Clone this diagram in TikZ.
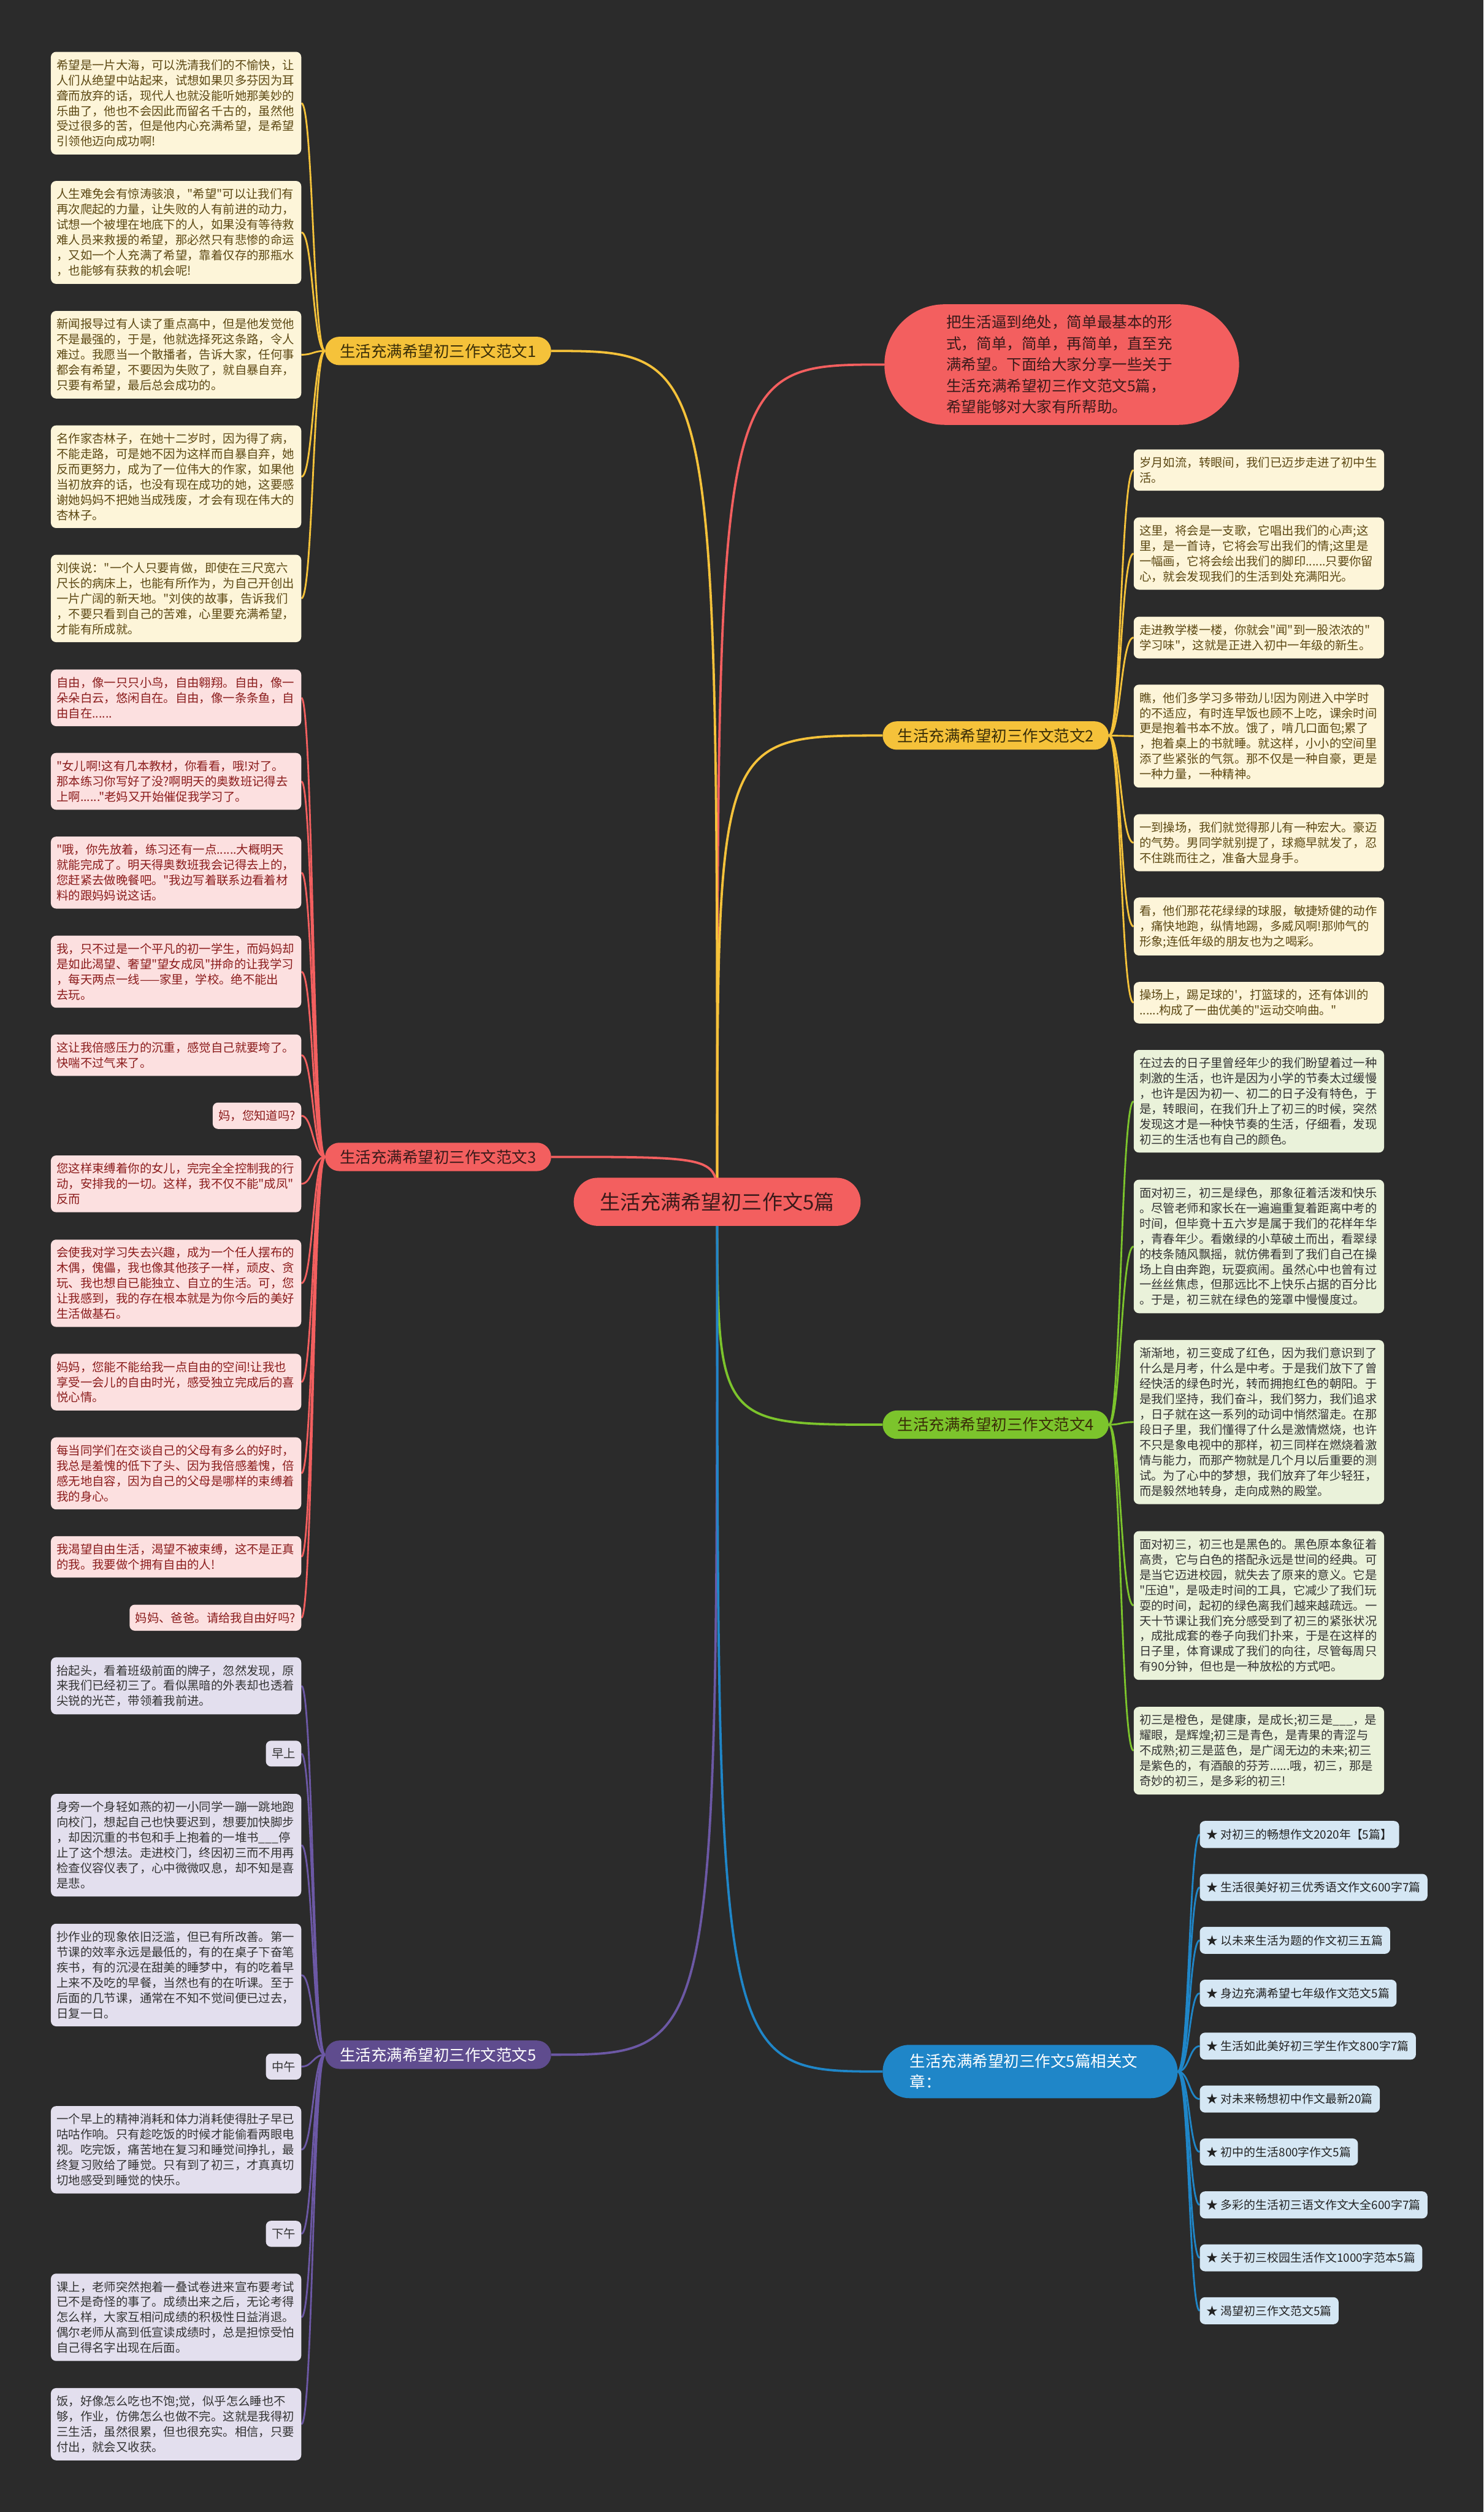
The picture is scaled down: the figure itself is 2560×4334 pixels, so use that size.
\documentclass[tikz,border=0pt]{standalone}
\usepackage{fontspec}
\newfontfamily\cjk{Noto Sans CJK SC}
\pgfdeclarelayer{back}
\pgfdeclarelayer{lines}
\pgfsetlayers{back,lines,main}
\definecolor{bgc}{HTML}{2B2B2B}
\definecolor{yel}{HTML}{F5C23A}
\definecolor{yfill}{HTML}{FDF5D9}
\definecolor{ytext}{HTML}{5C4813}
\definecolor{ybtext}{HTML}{3A2E08}
\definecolor{redc}{HTML}{F35F5F}
\definecolor{pfill}{HTML}{FCE0E0}
\definecolor{ptext}{HTML}{8B1C1C}
\definecolor{rbtext}{HTML}{3A1A1A}
\definecolor{grn}{HTML}{7CC42C}
\definecolor{gfill}{HTML}{EAF2DA}
\definecolor{gtext}{HTML}{333333}
\definecolor{vio}{HTML}{5F4C8E}
\definecolor{viol}{HTML}{6C58A5}
\definecolor{vfill}{HTML}{E3DFEE}
\definecolor{vtext}{HTML}{333333}
\definecolor{blu}{HTML}{1F86C8}
\definecolor{bfill}{HTML}{D5E7F4}
\definecolor{btext}{HTML}{222222}
\tikzset{
  boxbase/.style={rounded corners=9pt, inner xsep=10pt, inner ysep=13pt,
    font=\cjk\fontsize{20.5}{26.4}\selectfont},
  leaf/.style={boxbase, text width=412pt, align=left},
  yleaf/.style={leaf, fill=yfill, text=ytext},
  pleaf/.style={leaf, fill=pfill, text=ptext},
  gleaf/.style={leaf, fill=gfill, text=gtext},
  vleaf/.style={leaf, fill=vfill, text=vtext},
  ptag/.style={boxbase, fill=pfill, text=ptext},
  vtag/.style={boxbase, fill=vfill, text=vtext},
  linkbox/.style={rounded corners=9pt, inner xsep=12pt, inner ysep=14pt,
    fill=bfill, text=btext, font=\cjk\fontsize{20}{24}\selectfont},
  branch/.style={rounded corners=24.5pt, minimum width=390pt, minimum height=49pt,
    inner sep=0pt, font=\cjk\fontsize{27}{32}\selectfont},
  mainline/.style={line width=4pt},
  leafline/.style={line width=3pt},
}
\begin{document}
\begin{tikzpicture}[x=1pt,y=-1pt]
\begin{pgfonlayer}{back}
\fill[bgc] (0,0) rectangle (2560,4334);
\end{pgfonlayer}
\useasboundingbox (0,0) rectangle (2560,4334);

% ---------- main nodes ----------
\node[fill=redc, text=rbtext, rounded corners=41.5pt, minimum width=495pt, minimum height=83pt,
  inner sep=0pt, font=\cjk\fontsize{35}{40}\selectfont] (ctr) at (1237.5,2073.5) {生活充满希望初三作文5篇};
\node[fill=redc, text=rbtext, rounded corners=104pt, minimum width=612pt, minimum height=208pt,
  inner sep=0pt, text width=398pt, align=left, font=\cjk\fontsize{26}{36.5}\selectfont] (top) at (1832,629)
  {把生活逼到绝处，简单最基本的形\\式，简单，简单，再简单，直至充\\满希望。下面给大家分享一些关于\\生活充满希望初三作文范文5篇，\\希望能够对大家有所帮助。};
\node[branch, fill=yel, text=ybtext] (b1) at (756,605.5) {生活充满希望初三作文范文1};
\node[branch, fill=yel, text=ybtext] (b2) at (1718,1269) {生活充满希望初三作文范文2};
\node[branch, fill=redc, text=rbtext] (b3) at (756,1996) {生活充满希望初三作文范文3};
\node[branch, fill=grn, text=ybtext] (b4) at (1718,2458) {生活充满希望初三作文范文4};
\node[branch, fill=vio, text=white] (b5) at (756,3545) {生活充满希望初三作文范文5};
\node[fill=blu, text=white, rounded corners=46pt, minimum width=509pt, minimum height=92pt,
  inner xsep=47pt, inner ysep=0pt, text width=415pt, align=left,
  font=\cjk\fontsize{27}{36}\selectfont] (b6) at (1777.5,3574) {生活充满希望初三作文5篇相关文\\章：};

% ---------- branch 1 leaves ----------
\node[yleaf, anchor=east] (a1) at (520,178) {希望是一片大海，可以洗清我们的不愉快，让\\人们从绝望中站起来，试想如果贝多芬因为耳\\聋而放弃的话，现代人也就没能听她那美妙的\\乐曲了，他也不会因此而留名千古的，虽然他\\受过很多的苦，但是他内心充满希望，是希望\\引领他迈向成功啊!};
\node[yleaf, anchor=east] (a2) at (520,401) {人生难免会有惊涛骇浪，"希望"可以让我们有\\再次爬起的力量，让失败的人有前进的动力，\\试想一个被埋在地底下的人，如果没有等待救\\难人员来救援的希望，那必然只有悲惨的命运\\，又如一个人充满了希望，靠着仅存的那瓶水\\，也能够有获救的机会呢!};
\node[yleaf, anchor=east] (a3) at (520,612) {新闻报导过有人读了重点高中，但是他发觉他\\不是最强的，于是，他就选择死这条路，令人\\难过。我愿当一个散播者，告诉大家，任何事\\都会有希望，不要因为失败了，就自暴自弃，\\只要有希望，最后总会成功的。};
\node[yleaf, anchor=east] (a4) at (520,822.5) {名作家杏林子，在她十二岁时，因为得了病，\\不能走路，可是她不因为这样而自暴自弃，她\\反而更努力，成为了一位伟大的作家，如果他\\当初放弃的话，也没有现在成功的她，这要感\\谢她妈妈不把她当成残废，才会有现在伟大的\\杏林子。};
\node[yleaf, anchor=east] (a5) at (520,1032.5) {刘侠说："一个人只要肯做，即使在三尺宽六\\尺长的病床上，也能有所作为，为自己开创出\\一片广阔的新天地。"刘侠的故事，告诉我们\\，不要只看到自己的苦难，心里要充满希望，\\才能有所成就。};

% ---------- branch 3 leaves ----------
\node[pleaf, anchor=east] (c1) at (520,1204) {自由，像一只只小鸟，自由翱翔。自由，像一\\朵朵白云，悠闲自在。自由，像一条条鱼，自\\由自在......};
\node[pleaf, anchor=east] (c2) at (520,1348) {"女儿啊!这有几本教材，你看看，哦!对了。\\那本练习你写好了没?啊明天的奥数班记得去\\上啊......"老妈又开始催促我学习了。};
\node[pleaf, anchor=east] (c3) at (520,1505.5) {"哦，你先放着，练习还有一点......大概明天\\就能完成了。明天得奥数班我会记得去上的，\\您赶紧去做晚餐吧。"我边写着联系边看着材\\料的跟妈妈说这话。};
\node[pleaf, anchor=east] (c4) at (520,1676.5) {我，只不过是一个平凡的初一学生，而妈妈却\\是如此渴望、奢望"望女成凤"拼命的让我学习\\，每天两点一线——家里，学校。绝不能出\\去玩。};
\node[pleaf, anchor=east] (c5) at (520,1820.5) {这让我倍感压力的沉重，感觉自己就要垮了。\\快喘不过气来了。};
\node[ptag, anchor=east] (c6) at (520,1925) {妈，您知道吗?};
\node[pleaf, anchor=east] (c7) at (520,2042.5) {您这样束缚着你的女儿，完完全全控制我的行\\动，安排我的一切。这样，我不仅不能"成凤"\\反而};
\node[pleaf, anchor=east] (c8) at (520,2214) {会使我对学习失去兴趣，成为一个任人摆布的\\木偶，傀儡，我也像其他孩子一样，顽皮、贪\\玩、我也想自已能独立、自立的生活。可，您\\让我感到，我的存在根本就是为你今后的美好\\生活做基石。};
\node[pleaf, anchor=east] (c9) at (520,2384.5) {妈妈，您能不能给我一点自由的空间!让我也\\享受一会儿的自由时光，感受独立完成后的喜\\悦心情。};
\node[pleaf, anchor=east] (c10) at (520,2542) {每当同学们在交谈自己的父母有多么的好时，\\我总是羞愧的低下了头、因为我倍感羞愧，倍\\感无地自容，因为自己的父母是哪样的束缚着\\我的身心。};
\node[pleaf, anchor=east] (c11) at (520,2686) {我渴望自由生活，渴望不被束缚，这不是正真\\的我。我要做个拥有自由的人!};
\node[ptag, anchor=east] (c12) at (520,2791) {妈妈、爸爸。请给我自由好吗?};

% ---------- branch 5 leaves ----------
\node[vleaf, anchor=east] (e1) at (520,2908.5) {抬起头，看着班级前面的牌子，忽然发现，原\\来我们已经初三了。看似黑暗的外表却也透着\\尖锐的光芒，带领着我前进。};
\node[vtag, anchor=east] (e2) at (520,3025.5) {早上};
\node[vleaf, anchor=east] (e3) at (520,3183.5) {身旁一个身轻如燕的初一小同学一蹦一跳地跑\\向校门，想起自己也快要迟到，想要加快脚步\\，却因沉重的书包和手上抱着的一堆书\_\_\_停\\止了这个想法。走进校门，终因初三而不用再\\检查仪容仪表了，心中微微叹息，却不知是喜\\是悲。};
\node[vleaf, anchor=east] (e4) at (520,3407.5) {抄作业的现象依旧泛滥，但已有所改善。第一\\节课的效率永远是最低的，有的在桌子下奋笔\\疾书，有的沉浸在甜美的睡梦中，有的吃着早\\上来不及吃的早餐，当然也有的在听课。至于\\后面的几节课，通常在不知不觉间便已过去，\\日复一日。};
\node[vtag, anchor=east] (e5) at (520,3565.5) {中午};
\node[vleaf, anchor=east] (e6) at (520,3709) {一个早上的精神消耗和体力消耗使得肚子早已\\咕咕作响。只有趁吃饭的时候才能偷看两眼电\\视。吃完饭，痛苦地在复习和睡觉间挣扎，最\\终复习败给了睡觉。只有到了初三，才真真切\\切地感受到睡觉的快乐。};
\node[vtag, anchor=east] (e7) at (520,3854) {下午};
\node[vleaf, anchor=east] (e8) at (520,3998) {课上，老师突然抱着一叠试卷进来宣布要考试\\已不是奇怪的事了。成绩出来之后，无论考得\\怎么样，大家互相问成绩的积极性日益消退。\\偶尔老师从高到低宣读成绩时，总是担惊受怕\\自己得名字出现在后面。};
\node[vleaf, anchor=east] (e9) at (520,4182.5) {饭，好像怎么吃也不饱;觉，似乎怎么睡也不\\够，作业，仿佛怎么也做不完。这就是我得初\\三生活，虽然很累，但也很充实。相信，只要\\付出，就会又收获。};

% ---------- branch 2 leaves ----------
\node[yleaf, anchor=west] (r1) at (1956,811) {岁月如流，转眼间，我们已迈步走进了初中生\\活。};
\node[yleaf, anchor=west] (r2) at (1956,955) {这里，将会是一支歌，它唱出我们的心声;这\\里，是一首诗，它将会写出我们的情;这里是\\一幅画，它将会绘出我们的脚印......只要你留\\心，就会发现我们的生活到处充满阳光。};
\node[yleaf, anchor=west] (r3) at (1956,1100) {走进教学楼一楼，你就会"闻"到一股浓浓的"\\学习味"，这就是正进入初中一年级的新生。};
\node[yleaf, anchor=west] (r4) at (1956,1270) {瞧，他们多学习多带劲儿!因为刚进入中学时\\的不适应，有时连早饭也顾不上吃，课余时间\\更是抱着书本不放。饿了，啃几口面包;累了\\，抱着桌上的书就睡。就这样，小小的空间里\\添了些紧张的气氛。那不仅是一种自豪，更是\\一种力量，一种精神。};
\node[yleaf, anchor=west] (r5) at (1956,1454) {一到操场，我们就觉得那儿有一种宏大。豪迈\\的气势。男同学就别提了，球瘾早就发了，忍\\不住跳而往之，准备大显身手。};
\node[yleaf, anchor=west] (r6) at (1956,1598.5) {看，他们那花花绿绿的球服，敏捷矫健的动作\\，痛快地跑，纵情地踢，多威风啊!那帅气的\\形象;连低年级的朋友也为之喝彩。};
\node[yleaf, anchor=west] (r7) at (1956,1730) {操场上，踢足球的'，打篮球的，还有体训的\\......构成了一曲优美的"运动交响曲。"};

% ---------- branch 4 leaves ----------
\node[gleaf, anchor=west] (g1) at (1956,1900) {在过去的日子里曾经年少的我们盼望着过一种\\刺激的生活，也许是因为小学的节奏太过缓慢\\，也许是因为初一、初二的日子没有特色，于\\是，转眼间，在我们升上了初三的时候，突然\\发现这才是一种快节奏的生活，仔细看，发现\\初三的生活也有自己的颜色。};
\node[gleaf, anchor=west] (g2) at (1956,2150.5) {面对初三，初三是绿色，那象征着活泼和快乐\\。尽管老师和家长在一遍遍重复着距离中考的\\时间，但毕竟十五六岁是属于我们的花样年华\\，青春年少。看嫩绿的小草破土而出，看翠绿\\的枝条随风飘摇，就仿佛看到了我们自己在操\\场上自由奔跑，玩耍疯闹。虽然心中也曾有过\\一丝丝焦虑，但那远比不上快乐占据的百分比\\。于是，初三就在绿色的笼罩中慢慢度过。};
\node[gleaf, anchor=west] (g3) at (1956,2453.5) {渐渐地，初三变成了红色，因为我们意识到了\\什么是月考，什么是中考。于是我们放下了曾\\经快活的绿色时光，转而拥抱红色的朝阳。于\\是我们坚持，我们奋斗，我们努力，我们追求\\，日子就在这一系列的动词中悄然溜走。在那\\段日子里，我们懂得了什么是激情燃烧，也许\\不只是象电视中的那样，初三同样在燃烧着激\\情与能力，而那产物就是几个月以后重要的测\\试。为了心中的梦想，我们放弃了年少轻狂，\\而是毅然地转身，走向成熟的殿堂。};
\node[gleaf, anchor=west] (g4) at (1956,2770) {面对初三，初三也是黑色的。黑色原本象征着\\高贵，它与白色的搭配永远是世间的经典。可\\是当它迈进校园，就失去了原来的意义。它是\\"压迫"，是吸走时间的工具，它减少了我们玩\\耍的时间，起初的绿色离我们越来越疏远。一\\天十节课让我们充分感受到了初三的紧张状况\\，成批成套的卷子向我们扑来，于是在这样的\\日子里，体育课成了我们的向往，尽管每周只\\有90分钟，但也是一种放松的方式吧。};
\node[gleaf, anchor=west] (g5) at (1956,3020.5) {初三是橙色，是健康，是成长;初三是\_\_\_，是\\耀眼，是辉煌;初三是青色，是青果的青涩与\\不成熟;初三是蓝色，是广阔无边的未来;初三\\是紫色的，有酒酿的芬芳......哦，初三，那是\\奇妙的初三，是多彩的初三!};

% ---------- branch 6 links ----------
\node[linkbox, anchor=west] (k1) at (2070,3165) {★ 对初三的畅想作文2020年【5篇】};
\node[linkbox, anchor=west] (k2) at (2070,3256.3) {★ 生活很美好初三优秀语文作文600字7篇};
\node[linkbox, anchor=west] (k3) at (2070,3347.6) {★ 以未来生活为题的作文初三五篇};
\node[linkbox, anchor=west] (k4) at (2070,3438.9) {★ 身边充满希望七年级作文范文5篇};
\node[linkbox, anchor=west] (k5) at (2070,3530.2) {★ 生活如此美好初三学生作文800字7篇};
\node[linkbox, anchor=west] (k6) at (2070,3621.5) {★ 对未来畅想初中作文最新20篇};
\node[linkbox, anchor=west] (k7) at (2070,3712.8) {★ 初中的生活800字作文5篇};
\node[linkbox, anchor=west] (k8) at (2070,3804.1) {★ 多彩的生活初三语文作文大全600字7篇};
\node[linkbox, anchor=west] (k9) at (2070,3895.4) {★ 关于初三校园生活作文1000字范本5篇};
\node[linkbox, anchor=west] (k10) at (2070,3986.7) {★ 渴望初三作文范文5篇};

% ---------- connectors ----------
\coordinate (s1) at (540,605.5);
\coordinate (s2) at (1934,1269);
\coordinate (s3) at (540,1996);
\coordinate (s4) at (1934,2458);
\coordinate (s5) at (540,3545);
\coordinate (s6) at (2052,3574);
\begin{pgfonlayer}{lines}
\draw[mainline, draw=redc] (ctr.center) .. controls (ctr.center |- top.west) .. (top.west);
\draw[mainline, draw=yel] (ctr.center) .. controls (ctr.center |- b1.east) .. (b1.east);
\draw[mainline, draw=yel] (ctr.center) .. controls (ctr.center |- b2.west) .. (b2.west);
\draw[mainline, draw=redc] (ctr.center) .. controls (ctr.center |- b3.east) .. (b3.east);
\draw[mainline, draw=grn] (ctr.center) .. controls (ctr.center |- b4.west) .. (b4.west);
\draw[mainline, draw=viol] (ctr.center) .. controls (ctr.center |- b5.east) .. (b5.east);
\draw[mainline, draw=blu] (ctr.center) .. controls (ctr.center |- b6.west) .. (b6.west);
\foreach \n in {a1,a2,a3,a4,a5}
  \draw[leafline, draw=yel] (b1.west) .. controls (s1) and (s1 |- \n.east) .. (\n.east);
\foreach \n in {c1,c2,c3,c4,c5,c6,c7,c8,c9,c10,c11,c12}
  \draw[leafline, draw=redc] (b3.west) .. controls (s3) and (s3 |- \n.east) .. (\n.east);
\foreach \n in {e1,e2,e3,e4,e5,e6,e7,e8,e9}
  \draw[leafline, draw=viol] (b5.west) .. controls (s5) and (s5 |- \n.east) .. (\n.east);
\foreach \n in {r1,r2,r3,r4,r5,r6,r7}
  \draw[leafline, draw=yel] (b2.east) .. controls (s2) and (s2 |- \n.west) .. (\n.west);
\foreach \n in {g1,g2,g3,g4,g5}
  \draw[leafline, draw=grn] (b4.east) .. controls (s4) and (s4 |- \n.west) .. (\n.west);
\foreach \n in {k1,k2,k3,k4,k5,k6,k7,k8,k9,k10}
  \draw[leafline, draw=blu] (b6.east) .. controls (s6) and (s6 |- \n.west) .. (\n.west);
\end{pgfonlayer}
\end{tikzpicture}
\end{document}
